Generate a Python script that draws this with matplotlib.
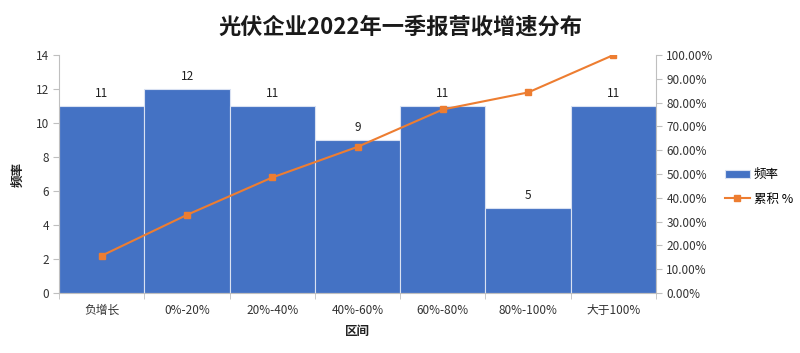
import matplotlib.pyplot as plt
import numpy as np
from matplotlib.ticker import PercentFormatter

plt.rcParams['font.family'] = ['Noto Sans CJK SC', 'DejaVu Sans']

# data
categories = ['负增长', '0%-20%', '20%-40%', '40%-60%', '60%-80%', '80%-100%', '大于100%']
freq = [11, 12, 11, 9, 11, 5, 11]
cum_pct = [15.71, 32.86, 48.57, 61.43, 77.14, 84.29, 100.0]

blue = '#4472C4'
orange = '#ED7D31'
grey = '#BFBFBF'
txt = '#333333'

fig = plt.figure(figsize=(8, 3.53), dpi=100)
ax = fig.add_axes([0.074, 0.170, 0.746, 0.674])
x = np.arange(len(categories))

bars = ax.bar(x, freq, width=1.0, color=blue, edgecolor='#D9E1F2', linewidth=0.8, label='频率')
for xi, v in zip(x, freq):
    ax.text(xi, v + 0.35, str(v), ha='center', va='bottom', fontsize=8.5, color='#202020')

ax.set_xlim(-0.5, len(categories) - 0.5)
ax.set_ylim(0, 14)
ax.set_yticks(np.arange(0, 15, 2))
ax.set_xticks(x)
ax.set_xticklabels(categories)
ax.set_xticks(np.arange(-0.5, len(categories), 1), minor=True)
ax.tick_params(axis='x', which='major', length=0, labelsize=8.5, colors=txt, pad=8)
ax.tick_params(axis='x', which='minor', length=4, color=grey)
ax.tick_params(axis='y', length=4, color=grey, labelsize=8.5, labelcolor=txt)
ax.spines['top'].set_visible(False)
ax.spines['right'].set_visible(False)
for s in ['left', 'bottom']:
    ax.spines[s].set_color(grey)
ax.set_xlabel('区间', fontsize=9, fontweight='bold', color='#202020', labelpad=6)
ax.set_ylabel('频率', fontsize=9, fontweight='bold', color='#202020', labelpad=8)

ax2 = ax.twinx()
line, = ax2.plot(x, cum_pct, color=orange, linewidth=1.5, marker='s', markersize=5, label='累积 %')
ax2.set_ylim(0, 100)
ax2.set_yticks(np.arange(0, 101, 10))
ax2.yaxis.set_major_formatter(PercentFormatter(decimals=2))
ax2.tick_params(axis='y', length=4, color=grey, labelsize=8.5, labelcolor=txt)
for s in ['top', 'left', 'bottom']:
    ax2.spines[s].set_visible(False)
ax2.spines['right'].set_color(grey)

fig.suptitle('光伏企业2022年一季报营收增速分布', fontsize=16, fontweight='bold', color='#1a1a1a', x=0.5, y=0.955)

fig.legend([bars, line], ['频率', '累积 %'], loc='center left', bbox_to_anchor=(0.906, 0.47),
           frameon=False, fontsize=9, handlelength=2.0, labelspacing=0.9, handletextpad=0.3,
           borderpad=0.0, borderaxespad=0.0)

fig.savefig('out.png', dpi=100)
